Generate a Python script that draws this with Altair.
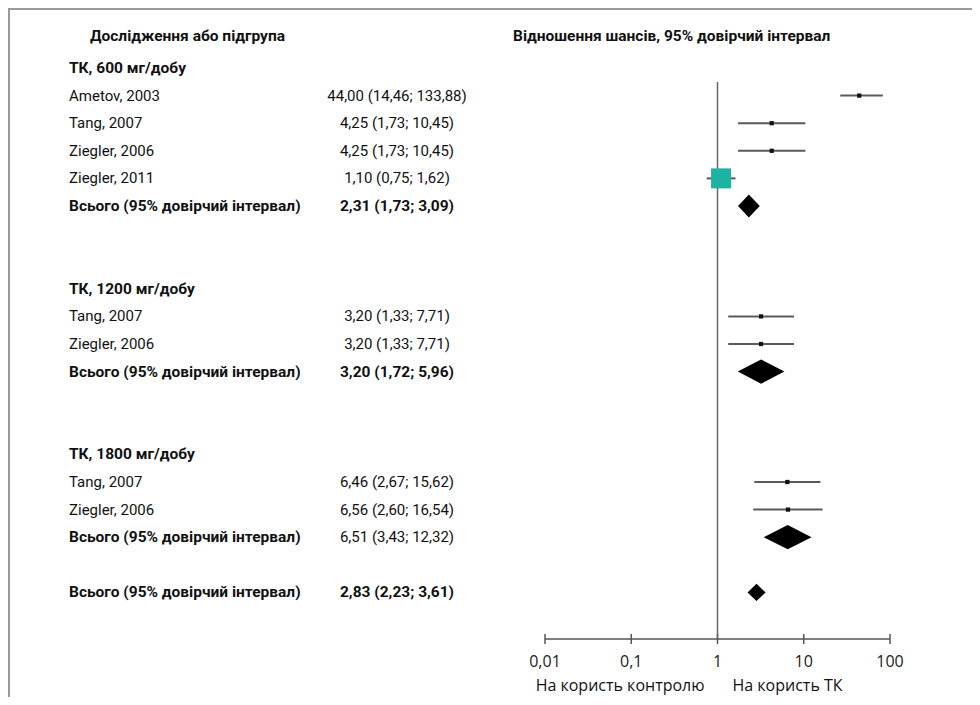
import altair as alt
import pandas as pd

# ---------------- data ----------------
LABELS = [
    "ТК, 600 мг/добу", "Ametov, 2003", "Tang, 2007", "Ziegler, 2006", "Ziegler, 2011",
    "Всього (95% довірчий інтервал)",
    "ТК, 1200 мг/добу", "Tang, 2007", "Ziegler, 2006", "Всього (95% довірчий інтервал)",
    "ТК, 1800 мг/добу", "Tang, 2007", "Ziegler, 2006", "Всього (95% довірчий інтервал)",
    "Всього (95% довірчий інтервал)",
]
ROWS = [0, 1, 2, 3, 4, 5, 8, 9, 10, 11, 14, 15, 16, 17, 19]
KINDS = ["group", "study", "study", "study", "study", "total",
         "group", "study", "study", "total",
         "group", "study", "study", "total",
         "total"]
VALUE_TEXT = ["", "44,00 (14,46; 133,88)", "4,25 (1,73; 10,45)", "4,25 (1,73; 10,45)",
              "1,10 (0,75; 1,62)", "2,31 (1,73; 3,09)",
              "", "3,20 (1,33; 7,71)", "3,20 (1,33; 7,71)", "3,20 (1,72; 5,96)",
              "", "6,46 (2,67; 15,62)", "6,56 (2,60; 16,54)", "6,51 (3,43; 12,32)",
              "2,83 (2,23; 3,61)"]
ODDS = [None, 44.0, 4.25, 4.25, 1.10, 2.31, None, 3.20, 3.20, 3.20, None, 6.46, 6.56, 6.51, 2.83]
# whisker ends as drawn in the picture
LOW = [None, 26.5, 1.73, 1.73, 0.75, 1.73, None, 1.33, 1.33, 1.72, None, 2.67, 2.60, 3.43, 2.23]
HIGH = [None, 82.6, 10.45, 10.45, 1.62, 3.09, None, 7.71, 7.71, 5.96, None, 15.62, 16.54, 12.32, 3.61]
TICKS = [0.01, 0.1, 1, 10, 100]
TICK_LABELS = ["0,01", "0,1", "1", "10", "100"]
HIGHLIGHT_STUDY = "Ziegler, 2011"
REGULAR_VALUES = ["6,51 (3,43; 12,32)"]
HEADER_LEFT = "Дослідження або підгрупа"
HEADER_RIGHT = "Відношення шансів, 95% довірчий інтервал"
FAVOURS_LEFT = "На користь контролю"
FAVOURS_RIGHT = "На користь ТК"

# ---------------- layout / style ----------------
W, H = 964, 631
PAD_BOTTOM = 58
ROW0_PX, ROW_STEP = 60.0, 27.6
Y_DOM = [-ROW0_PX / ROW_STEP, (H - ROW0_PX) / ROW_STEP]
X_SCALE = alt.Scale(type="log", domain=[0.01, 100], range=[537, 882], nice=False)
Y_SCALE = alt.Scale(domain=Y_DOM, reverse=True, nice=False, zero=False)
TEAL = "#1db3a2"
FONT = "Roboto"
AXFONT = "Open Sans"
FS = 15
FS_BOLD = 15.5
AXIS_COLOR = "#555"
DIAMOND_HALF = [0.42, 0.44, 0.44, 0.31]

df = pd.DataFrame(dict(label=LABELS, row=ROWS, kind=KINDS, value=VALUE_TEXT,
                       est=ODDS, lo=LOW, hi=HIGH))
df["label_bold"] = df["kind"].isin(["group", "total"])
df["value_bold"] = (df["kind"] == "total") & (~df["value"].isin(REGULAR_VALUES))

studies = df[df["kind"] == "study"].copy()
studies["big"] = studies["label"] == HIGHLIGHT_STUDY

totals = df[df["kind"] == "total"].reset_index(drop=True)
dia_rows = []
for i, r in totals.iterrows():
    h = DIAMOND_HALF[i]
    dia_rows.append(dict(g=i, x=r["lo"], y=r["row"], y2=r["row"]))
    dia_rows.append(dict(g=i, x=r["est"], y=r["row"] - h, y2=r["row"] + h))
    dia_rows.append(dict(g=i, x=r["hi"], y=r["row"], y2=r["row"]))
dia = pd.DataFrame(dia_rows)

one = pd.DataFrame({"k": [0]})
ticks_df = pd.DataFrame({"t": TICKS, "lab": TICK_LABELS})

Y = alt.Y("row:Q", scale=Y_SCALE, axis=None)


def X(field):
    return alt.X(field, scale=X_SCALE, axis=None)


# hand-drawn x axis: line, crossing ticks and labels
axis_line = alt.Chart(one).mark_rule(color=AXIS_COLOR, strokeWidth=1.5).encode(
    x=alt.datum(TICKS[0], type="quantitative", scale=X_SCALE, axis=None),
    x2=alt.datum(TICKS[-1]),
    y=alt.value(H),
)
axis_ticks = alt.Chart(ticks_df).mark_rule(color=AXIS_COLOR, strokeWidth=1.5).encode(
    x=X("t:Q"), y=alt.value(H - 5), y2=alt.value(H + 5),
)
axis_labels = alt.Chart(ticks_df).mark_text(
    align="center", baseline="middle", font=AXFONT, fontSize=16, color="#222").encode(
    x=X("t:Q"), y=alt.value(H + 23), text="lab:N",
)

null_line = alt.Chart(one).mark_rule(color="#666", strokeWidth=1.5).encode(
    x=alt.datum(1, type="quantitative", scale=X_SCALE, axis=None),
    y=alt.value(74), y2=alt.value(H),
)

whiskers = alt.Chart(df[df["kind"] == "study"]).mark_rule(color="#5a5a5a", strokeWidth=2).encode(
    x=X("lo:Q"), x2="hi:Q", y=Y,
)

squares = alt.Chart(studies).mark_square(opacity=1).encode(
    x=X("est:Q"), y=Y,
    color=alt.condition(alt.datum.big, alt.value(TEAL), alt.value("#111")),
    size=alt.condition(alt.datum.big, alt.value(400), alt.value(18)),
)

diamonds = alt.Chart(dia).mark_area(color="#000", orient="vertical", opacity=1).encode(
    x=X("x:Q"),
    y=alt.Y("y:Q", scale=Y_SCALE, axis=None), y2="y2:Q",
    detail="g:N",
)

labels_reg = alt.Chart(df[~df["label_bold"]]).mark_text(
    align="left", baseline="middle", font=FONT, fontSize=FS, color="#111").encode(
    x=alt.value(61), y=Y, text="label:N")
labels_bold = alt.Chart(df[df["label_bold"]]).mark_text(
    align="left", baseline="middle", font=FONT, fontSize=FS_BOLD, fontWeight="bold", color="#111").encode(
    x=alt.value(61), y=Y, text="label:N")
vals = df[df["value"] != ""]
values_reg = alt.Chart(vals[~vals["value_bold"]]).mark_text(
    align="center", baseline="middle", font=FONT, fontSize=FS, color="#111").encode(
    x=alt.value(389), y=Y, text="value:N")
values_bold = alt.Chart(vals[vals["value_bold"]]).mark_text(
    align="center", baseline="middle", font=FONT, fontSize=FS_BOLD, fontWeight="bold", color="#111").encode(
    x=alt.value(389), y=Y, text="value:N")

head_l = alt.Chart(pd.DataFrame({"t": [HEADER_LEFT]})).mark_text(
    align="left", baseline="middle", font=FONT, fontSize=FS_BOLD, fontWeight="bold", color="#111").encode(
    x=alt.value(82), y=alt.value(28), text="t:N")
head_r = alt.Chart(pd.DataFrame({"t": [HEADER_RIGHT]})).mark_text(
    align="left", baseline="middle", font=FONT, fontSize=FS_BOLD, fontWeight="bold", color="#111").encode(
    x=alt.value(505), y=alt.value(28), text="t:N")

fav_l = alt.Chart(pd.DataFrame({"t": [FAVOURS_LEFT]})).mark_text(
    align="right", baseline="middle", font=AXFONT, fontSize=16, color="#111", dx=-13).encode(
    x=alt.datum(1, type="quantitative", scale=X_SCALE, axis=None), y=alt.value(678), text="t:N")
fav_r = alt.Chart(pd.DataFrame({"t": [FAVOURS_RIGHT]})).mark_text(
    align="left", baseline="middle", font=AXFONT, fontSize=16, color="#111", dx=15).encode(
    x=alt.datum(1, type="quantitative", scale=X_SCALE, axis=None), y=alt.value(678), text="t:N")

frame_top = alt.Chart(one).mark_rule(color="#9a9a9a", strokeWidth=2).encode(
    x=alt.value(0), x2=alt.value(W), y=alt.value(1))
frame_left = alt.Chart(one).mark_rule(color="#9a9a9a", strokeWidth=2).encode(
    x=alt.value(1), y=alt.value(0), y2=alt.value(H + PAD_BOTTOM))

chart = alt.layer(
    axis_line, axis_ticks, axis_labels, null_line, whiskers, squares, diamonds,
    labels_reg, labels_bold, values_reg, values_bold,
    head_l, head_r, fav_l, fav_r, frame_top, frame_left,
).properties(
    width=W, height=H,
    autosize=alt.AutoSizeParams(type="none"),
    padding={"left": 0, "top": 0, "right": 0, "bottom": PAD_BOTTOM},
    background="white",
).configure_view(stroke=None)

chart.save("out.html", embed_options={"renderer": "svg", "actions": False})
